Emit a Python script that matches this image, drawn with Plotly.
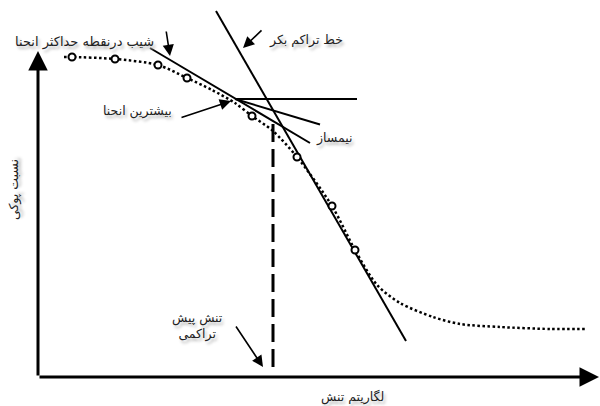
import plotly.graph_objects as go

# compression curve (schematic): x = log stress, y = void ratio (screen-like, y grows downward)
curve_x = [64, 72, 115, 158, 187, 212, 235, 252, 273, 297, 332, 355, 377, 400, 433, 460, 500, 550, 586]
curve_y = [57, 57, 59, 65, 78, 90, 103, 116, 131, 157, 206, 250, 285, 303, 317, 324, 327, 329, 329]

# test points (open circles)
points_x = [72, 115, 158, 187, 252, 297, 332, 355]
points_y = [57, 59, 65, 78, 116, 157, 206, 250]

# construction lines
virgin_x = [216, 406]
virgin_y = [11, 341]
tangent_x = [150, 310]
tangent_y = [48, 143]
horiz_x = [235, 357]
horiz_y = [99, 99]
bisector_x = [235, 320]
bisector_y = [99, 124.5]
precon_x = [273, 273]
precon_y = [124, 371]

# axes
axis_origin = (38, 377)
x_axis_end = 599
y_axis_end = 51

# labels
lbl_tangent = "شیب درنقطه حداکثر انحنا"
lbl_virgin = "خط تراکم بکر"
lbl_maxcurv = "بیشترین انحنا"
lbl_bisector = "نیمساز"
lbl_precon = "تنش پیش<br>تراکمی"
lbl_xaxis = "لگاریتم تنش"
lbl_yaxis = "نسبت پوکی"

FONT = "DejaVu Sans"
SHADOW = "2px 3px 3px #b8b8b8"

fig = go.Figure()

black_line = dict(color="black", width=2)
for xs, ys in [(virgin_x, virgin_y), (tangent_x, tangent_y), (horiz_x, horiz_y), (bisector_x, bisector_y)]:
    fig.add_trace(go.Scatter(x=xs, y=ys, mode="lines", line=black_line, hoverinfo="skip"))

fig.add_trace(go.Scatter(x=precon_x, y=precon_y, mode="lines",
                         line=dict(color="black", width=3, dash="18px,7px"), hoverinfo="skip"))

fig.add_trace(go.Scatter(x=curve_x, y=curve_y, mode="lines",
                         line=dict(color="black", width=2.5, dash="2.5px,2.5px", shape="spline", smoothing=0.8),
                         hoverinfo="skip"))

fig.add_trace(go.Scatter(x=points_x, y=points_y, mode="markers",
                         marker=dict(symbol="circle", size=7, color="white", line=dict(width=2, color="black")),
                         hoverinfo="skip"))

# axes with arrowheads
ox, oy = axis_origin
axis_arrows = [
    (x_axis_end, oy, ox, oy),
    (ox, y_axis_end, ox, oy),
]
for x, y, ax, ay in axis_arrows:
    fig.add_annotation(x=x, y=y, ax=ax, ay=ay, xref="x", yref="y", axref="x", ayref="y",
                       text="", showarrow=True, arrowhead=2, arrowsize=1.3, arrowwidth=3, arrowcolor="black")

# pointer arrows: (tip x, tip y, tail x, tail y)
pointers = [
    (170, 56, 166, 30),
    (243, 48, 263, 29),
    (231, 101, 180, 118),
    (263, 367, 235, 325),
]
for x, y, ax, ay in pointers:
    fig.add_annotation(x=x, y=y, ax=ax, ay=ay, xref="x", yref="y", axref="x", ayref="y",
                       text="", showarrow=True, arrowhead=2, arrowsize=1.4, arrowwidth=1.6, arrowcolor="black")

labels = [
    (lbl_tangent, 84, 42, 13),
    (lbl_virgin, 306, 40, 12.5),
    (lbl_maxcurv, 137, 111, 12.5),
    (lbl_bisector, 334, 138, 12.5),
    (lbl_precon, 197, 326, 12.5),
    (lbl_xaxis, 352, 397, 12.5),
]
for text, x, y, size in labels:
    fig.add_annotation(x=x, y=y, xref="x", yref="y", text=text, showarrow=False,
                       font=dict(family=FONT, size=size, color="#222", shadow=SHADOW))

fig.add_annotation(x=14, y=190, xref="x", yref="y", text=lbl_yaxis, showarrow=False, textangle=-90,
                   font=dict(family=FONT, size=12.5, color="#222", shadow=SHADOW))

fig.update_layout(
    width=600, height=406,
    margin=dict(l=0, r=0, t=0, b=0),
    paper_bgcolor="white", plot_bgcolor="white",
    showlegend=False,
    xaxis=dict(range=[0, 600], visible=False, fixedrange=True),
    yaxis=dict(range=[406, 0], visible=False, fixedrange=True),
)

# drop the default page margin so the 600x406 figure sits flush in the window
fig.write_html("out.html", config={"displayModeBar": False},
               post_script="document.body.style.margin='0';document.body.style.overflow='hidden';")
